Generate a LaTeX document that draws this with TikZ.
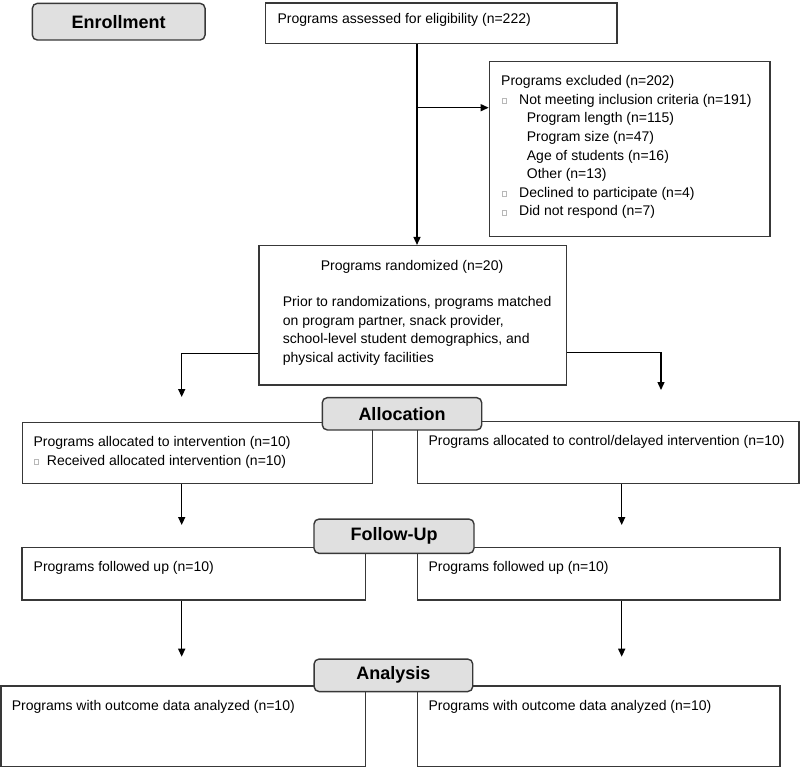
\documentclass[tikz,border=0pt]{standalone}
\usepackage{fontspec}
\setmainfont{Liberation Sans}
\usetikzlibrary{arrows.meta}
\definecolor{edge}{HTML}{383838}
\definecolor{stagefill}{HTML}{E0E0E0}
\definecolor{bulc}{HTML}{B8B8B8}
\tikzset{
  box/.style={draw=edge, line width=1.4pt, fill=white, rectangle, inner sep=0pt},
  stage/.style={draw=edge, line width=1.4pt, fill=stagefill, rectangle, rounded corners=5pt,
    inner sep=0pt, font=\fontsize{18}{22}\selectfont\bfseries},
  txt/.style={anchor=base west, inner sep=0pt, font=\fontsize{14}{18}\selectfont},
  ctxt/.style={anchor=base, inner sep=0pt, font=\fontsize{14}{18}\selectfont},
  bul/.style={draw=bulc, line width=0.6pt, rectangle, inner sep=0pt, minimum width=4.5pt, minimum height=5pt},
  arr/.style={draw=black, line width=1.4pt, -{Triangle[length=8pt,width=7pt]}},
}
\begin{document}
\begin{tikzpicture}[x=1pt,y=-1pt]
\useasboundingbox (0,0) rectangle (800,767);

% boxes
\node[box, minimum width=351.7pt, minimum height=40.5pt] (assess) at (441.2,23.2) {};
\node[box, minimum width=280.7pt, minimum height=175pt] (excl) at (629.7,149.2) {};
\node[box, minimum width=307.3pt, minimum height=139.3pt] (rand) at (412.7,315.3) {};
\node[box, minimum width=350pt, minimum height=61.2pt] (allocL) at (197.3,452.9) {};
\node[box, minimum width=381.7pt, minimum height=61.6pt] (allocR) at (608.2,452.5) {};
\node[box, minimum width=343.3pt, minimum height=52.3pt] (folL) at (193.7,573.9) {};
\node[box, minimum width=362.7pt, minimum height=52.3pt] (folR) at (598.7,573.9) {};
\node[box, minimum width=364.7pt, minimum height=80.5pt] (anL) at (183.4,726.3) {};
\node[box, minimum width=362.7pt, minimum height=80.5pt] (anR) at (598.7,726.3) {};

% stage labels
\node[stage, minimum width=172.7pt, minimum height=36.7pt] (enroll) at (118.7,21.7) {Enrollment};
\node[stage, minimum width=159.4pt, minimum height=32.3pt] (allocS) at (402,413.8) {Allocation};
\node[stage, minimum width=160pt, minimum height=34.3pt] (followS) at (394,536.2) {Follow-Up};
\node[stage, minimum width=158.7pt, minimum height=32.5pt] (anS) at (393.4,675.3) {Analysis};

% texts
\node[txt] (tAssess) at (277.3,23.3) {Programs assessed for eligibility (n=222)};

\node[txt] (e1) at (501,85.7) {Programs excluded (n=202)};
\node[bul] (eb1) at (504.2,100.8) {};
\node[txt] (e2) at (519,104.3) {Not meeting inclusion criteria (n=191)};
\node[txt] (e3) at (526.7,122.9) {Program length (n=115)};
\node[txt] (e4) at (526.7,141.5) {Program size (n=47)};
\node[txt] (e5) at (526.7,160.1) {Age of students (n=16)};
\node[txt] (e6) at (526.7,178.7) {Other (n=13)};
\node[bul] (eb2) at (504.2,194.2) {};
\node[txt] (e7) at (519,197.7) {Declined to participate (n=4)};
\node[bul] (eb3) at (504.2,212.5) {};
\node[txt] (e8) at (519,216) {Did not respond (n=7)};

\node[ctxt] (r0) at (412,270) {Programs randomized (n=20)};
\node[txt] (r1) at (282.7,306.5) {Prior to randomizations, programs matched};
\node[txt] (r2) at (282.7,325) {on program partner, snack provider,};
\node[txt] (r3) at (282.7,343.5) {school-level student demographics, and};
\node[txt] (r4) at (282.7,362) {physical activity facilities};

\node[txt] (aL1) at (33.3,446.7) {Programs allocated to intervention (n=10)};
\node[bul] (ab1) at (36.5,462.2) {};
\node[txt] (aL2) at (46.7,465.7) {Received allocated intervention (n=10)};
\node[txt] (aR1) at (428.3,445.5) {Programs allocated to control/delayed intervention (n=10)};

\node[txt] (fL) at (33.5,571.7) {Programs followed up (n=10)};
\node[txt] (fR) at (428.3,571.7) {Programs followed up (n=10)};

\node[txt] (nL) at (11.7,710) {Programs with outcome data analyzed (n=10)};
\node[txt] (nR) at (428.3,710) {Programs with outcome data analyzed (n=10)};

% connector coordinates
\coordinate (v1) at (417,0);
\coordinate (br) at (417,107.7);
\coordinate (sideL) at (0,353.3);
\coordinate (sideR) at (0,352.3);
\coordinate (rl) at (181.7,397);
\coordinate (rr) at (661,390);
\coordinate (t1) at (181.7,525);
\coordinate (t2) at (621.7,525);
\coordinate (t3) at (181.7,656.7);
\coordinate (t4) at (621.7,656.7);

% connectors
\draw[arr] (assess.south -| v1) -- (rand.north -| v1);
\draw[arr] (br) -- (br -| excl.west);
\draw[arr] (rand.west |- sideL) -| (rl);
\draw[arr] (rand.east |- sideR) -| (rr);
\draw[arr] (allocL.south -| t1) -- (t1);
\draw[arr] (allocR.south -| t2) -- (t2);
\draw[arr] (folL.south -| t3) -- (t3);
\draw[arr] (folR.south -| t4) -- (t4);
\end{tikzpicture}
\end{document}
